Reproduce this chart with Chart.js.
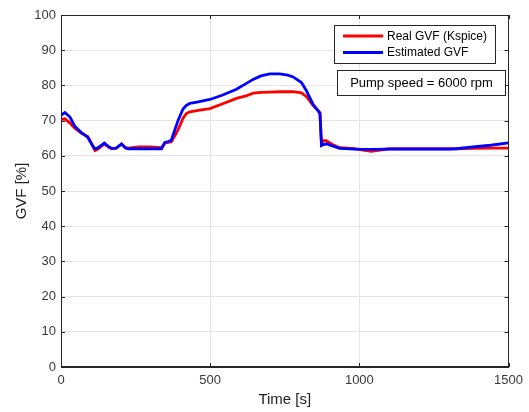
<!DOCTYPE html>
<html>
<head>
<meta charset="utf-8">
<script src="https://cdn.jsdelivr.net/npm/chart.js@4.4.1/dist/chart.umd.min.js"></script>
<style>
  html, body { margin: 0; padding: 0; background: #fff; }
  #wrap { width: 529px; height: 412px; position: relative; }
</style>
</head>
<body>
<div id="wrap"><canvas id="c" width="529" height="412"></canvas></div>
<script>
// ---- data ----
const times = [0, 13, 30, 47, 70, 90, 105, 114, 125, 145, 160, 170, 185, 203, 215, 225, 260, 300, 337, 348, 360, 370, 380, 393, 409, 420, 432, 460, 499, 540, 588, 620, 644, 670, 700, 733, 760, 778, 806, 823, 845, 862, 868, 873, 880, 889, 910, 934, 985, 1040, 1100, 1200, 1300, 1325, 1380, 1440, 1500];
const realGVF = [70.3, 70.5, 69.3, 67.8, 66.3, 65.5, 63.0, 61.5, 62.0, 63.4, 62.4, 62.0, 62.2, 63.3, 62.4, 62.2, 62.5, 62.5, 62.3, 63.6, 63.8, 64.0, 65.5, 67.5, 70.7, 72.0, 72.5, 72.9, 73.4, 74.7, 76.3, 77.0, 77.8, 78.0, 78.1, 78.2, 78.2, 78.2, 77.9, 76.8, 74.3, 72.9, 72.2, 63.5, 64.3, 64.3, 63.2, 62.3, 62.0, 61.3, 62.0, 62.0, 62.0, 62.0, 62.1, 62.2, 62.2];
const estGVF = [71.5, 72.3, 71.0, 68.3, 66.5, 65.2, 63.0, 62.0, 62.3, 63.6, 62.6, 62.1, 62.2, 63.4, 62.3, 62.0, 62.0, 62.0, 62.0, 63.8, 64.0, 64.5, 67.0, 70.2, 73.3, 74.3, 74.9, 75.3, 76.0, 77.2, 78.9, 80.5, 81.7, 82.7, 83.3, 83.3, 82.9, 82.4, 80.8, 78.4, 74.6, 72.7, 72.0, 62.9, 63.2, 63.4, 62.8, 62.1, 61.9, 61.8, 61.9, 61.9, 61.9, 62.0, 62.5, 63.0, 63.7];
const seriesLabels = ['Real GVF (Kspice)', 'Estimated GVF'];
const xTicks = [0, 500, 1000, 1500];
const yTicks = [0, 10, 20, 30, 40, 50, 60, 70, 80, 90, 100];
const annotationText = 'Pump speed = 6000 rpm';
const xTitle = 'Time [s]';
const yTitle = 'GVF [%]';

const toXY = (vals) => times.map((t, i) => ({ x: t, y: vals[i] }));
const AXIS = '#262626';
const FONT = '"Liberation Sans", Arial, sans-serif';

const boxPlugin = {
  id: 'boxPlugin',
  afterDatasetsDraw(chart) {
    const { ctx, chartArea: a, scales } = chart;
    ctx.save();
    // inward tick marks on all four sides
    ctx.strokeStyle = AXIS;
    ctx.lineWidth = 1;
    const L = 4;
    ctx.beginPath();
    yTicks.forEach(v => {
      const y = Math.round(scales.y.getPixelForValue(v)) + 0.5;
      ctx.moveTo(a.left, y); ctx.lineTo(a.left + L, y);
      ctx.moveTo(a.right, y); ctx.lineTo(a.right - L, y);
    });
    xTicks.forEach(v => {
      const x = Math.round(scales.x.getPixelForValue(v)) + 0.5;
      ctx.moveTo(x, a.bottom); ctx.lineTo(x, a.bottom - L);
      ctx.moveTo(x, a.top); ctx.lineTo(x, a.top + L);
    });
    ctx.stroke();
    // full box
    ctx.strokeRect(Math.round(a.left) + 0.5, Math.round(a.top) + 0.5,
                   Math.round(a.right - a.left) - 1, Math.round(a.bottom - a.top) - 1);

    // legend box
    const lx = 334, ly = 25, lw = 161, lh = 38;
    ctx.fillStyle = '#fff';
    ctx.fillRect(lx, ly, lw, lh);
    ctx.strokeStyle = AXIS;
    ctx.lineWidth = 1;
    ctx.strokeRect(lx + 0.5, ly + 0.5, lw, lh);
    const ds = chart.data.datasets;
    const rows = [36, 52.5];
    ds.forEach((d, i) => {
      ctx.strokeStyle = d.borderColor;
      ctx.lineWidth = 3;
      ctx.beginPath();
      ctx.moveTo(343, rows[i]); ctx.lineTo(383, rows[i]);
      ctx.stroke();
      ctx.fillStyle = '#000';
      ctx.font = '12px ' + FONT;
      ctx.textBaseline = 'middle';
      ctx.textAlign = 'left';
      ctx.fillText(d.label, 387, rows[i] + 0.5);
    });

    // annotation box
    const bx = 337, by = 70, bw = 168, bh = 25;
    ctx.fillStyle = '#fff';
    ctx.fillRect(bx, by, bw, bh);
    ctx.strokeStyle = AXIS;
    ctx.lineWidth = 1;
    ctx.strokeRect(bx + 0.5, by + 0.5, bw, bh);
    ctx.fillStyle = '#000';
    ctx.font = '13px ' + FONT;
    ctx.textAlign = 'center';
    ctx.textBaseline = 'middle';
    ctx.fillText(annotationText, bx + bw / 2 + 0.5, by + bh / 2 + 1);
    ctx.restore();
  }
};

new Chart(document.getElementById('c'), {
  type: 'line',
  data: {
    datasets: [
      { label: seriesLabels[0], data: toXY(realGVF), borderColor: '#ff0000', backgroundColor: '#ff0000', borderWidth: 2.8, pointRadius: 0, tension: 0, order: 1 },
      { label: seriesLabels[1], data: toXY(estGVF), borderColor: '#0000ff', backgroundColor: '#0000ff', borderWidth: 2.8, pointRadius: 0, tension: 0, order: 0 }
    ]
  },
  options: {
    responsive: false,
    animation: false,
    devicePixelRatio: 1,
    layout: { padding: { top: 15, right: 20, left: 0, bottom: 0 } },
    plugins: { legend: { display: false }, tooltip: { enabled: false } },
    scales: {
      x: {
        type: 'linear', min: 0, max: 1500,
        afterFit(s) { s.height = 45; },
        afterBuildTicks(s) { s.ticks = xTicks.map(v => ({ value: v })); },
        grid: { color: '#e4e4e4', lineWidth: 1, drawTicks: false },
        border: { display: true, color: AXIS },
        ticks: { padding: 6, color: '#3a3a3a', font: { family: FONT, size: 13 }, maxRotation: 0, callback: (v) => String(v) },
        title: { display: true, text: xTitle, color: '#222', font: { family: FONT, size: 15 }, padding: { top: 0, bottom: 3 } }
      },
      y: {
        type: 'linear', min: 0, max: 100,
        afterFit(s) { s.width = 61; },
        afterBuildTicks(s) { s.ticks = yTicks.map(v => ({ value: v })); },
        grid: { color: '#e4e4e4', lineWidth: 1, drawTicks: false },
        border: { display: true, color: AXIS },
        ticks: { padding: 5, color: '#3a3a3a', font: { family: FONT, size: 13 }, callback: (v) => String(v) },
        title: { display: true, text: yTitle, color: '#222', font: { family: FONT, size: 15 }, padding: { top: 13, bottom: 0 } }
      }
    }
  },
  plugins: [boxPlugin]
});
</script>
</body>
</html>
